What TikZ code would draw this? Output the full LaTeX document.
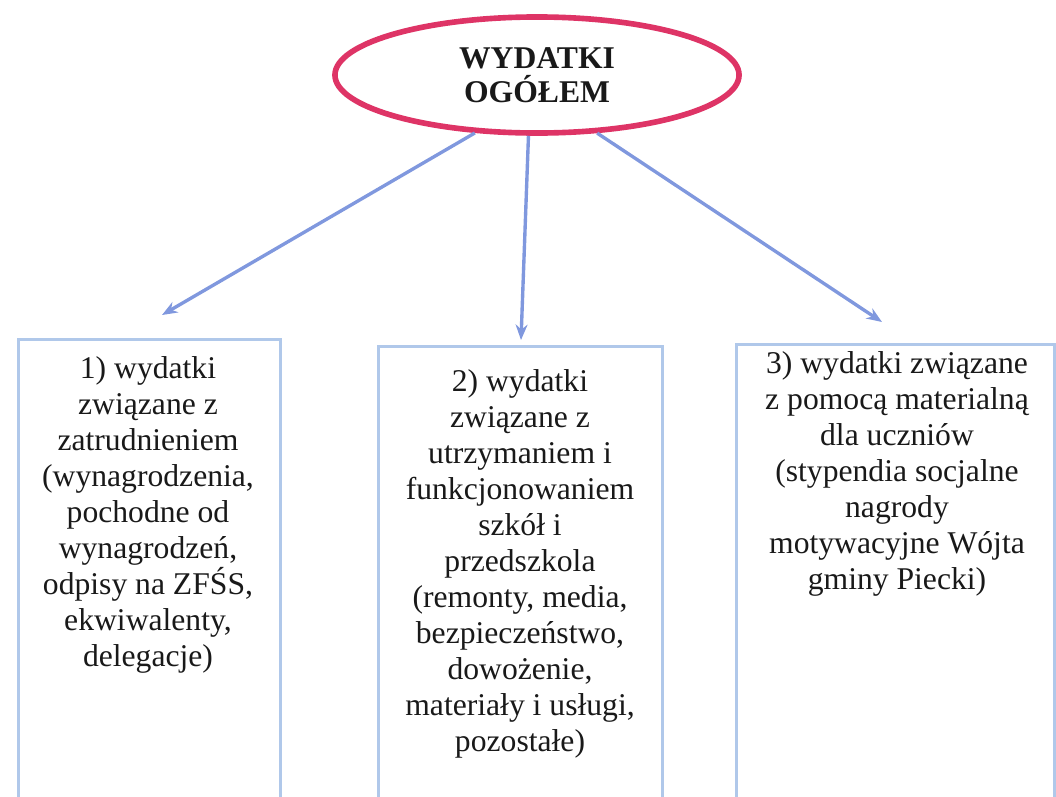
\documentclass[tikz,border=0pt]{standalone}
\usepackage{fontspec}
\setmainfont{Liberation Serif}
\usetikzlibrary{shapes.geometric,positioning,arrows.meta}

\definecolor{ovalred}{RGB}{222,52,102}
\definecolor{arrowblue}{RGB}{128,152,222}
\definecolor{boxblue}{RGB}{176,200,234}

\tikzset{
  total/.style={ellipse,draw=ovalred,line width=4pt,minimum width=10.1cm,minimum height=2.9cm,
    align=center,font=\fontsize{22.5}{24.5}\selectfont\bfseries,text=black!90},
  branch/.style={rectangle,draw=boxblue,line width=2.2pt,minimum height=13cm,anchor=north west},
  branchtext/.style={align=center,inner sep=0pt,anchor=north,font=\fontsize{22.5}{25.6}\selectfont,text=black!90},
  link/.style={arrowblue,line width=2.4pt,->}
}

\begin{document}
\begin{tikzpicture}[>={Stealth[length=11pt,width=8.5pt]},x=0.025cm,y=-0.025cm]
    \useasboundingbox (0,0) rectangle (1056,796);
    \clip (0,0) rectangle (1056,796);
    % top oval
    \node[total] (ogolem) at (537,75) {WYDATKI\\OGÓŁEM};
    % boxes
    \node[branch,minimum width=6.55cm] (b1) at (16.5,338) {};
    \node[branch,minimum width=7.1cm] (b2) at (376.5,345) {};
    \node[branch,minimum width=7.95cm] (b3) at (734.5,343) {};
    % box texts
    \node[branchtext] (t1) at (148,356) {1) wydatki\\związane z\\zatrudnieniem\\(wynagrodzenia,\\pochodne od\\wynagrodzeń,\\odpisy na ZFŚS,\\ekwiwalenty,\\delegacje)};
    \node[branchtext] (t2) at (520,369) {2) wydatki\\związane z\\utrzymaniem i\\funkcjonowaniem\\szkół i\\przedszkola\\(remonty, media,\\bezpieczeństwo,\\dowożenie,\\materiały i usługi,\\pozostałe)};
    \node[branchtext] (t3) at (897,351) {3) wydatki związane\\z pomocą materialną\\dla uczniów\\(stypendia socjalne\\nagrody\\motywacyjne Wójta\\gminy Piecki)};
    % arrow ends
    \coordinate (e1) at (162,315);
    \coordinate (e2) at (521,340);
    \coordinate (e3) at (882,322);
    % arrows
    \draw[link] (ogolem.223) -- (e1);
    \draw[link] (ogolem.262) -- (e2);
    \draw[link] (ogolem.316) -- (e3);
\end{tikzpicture}
\end{document}
